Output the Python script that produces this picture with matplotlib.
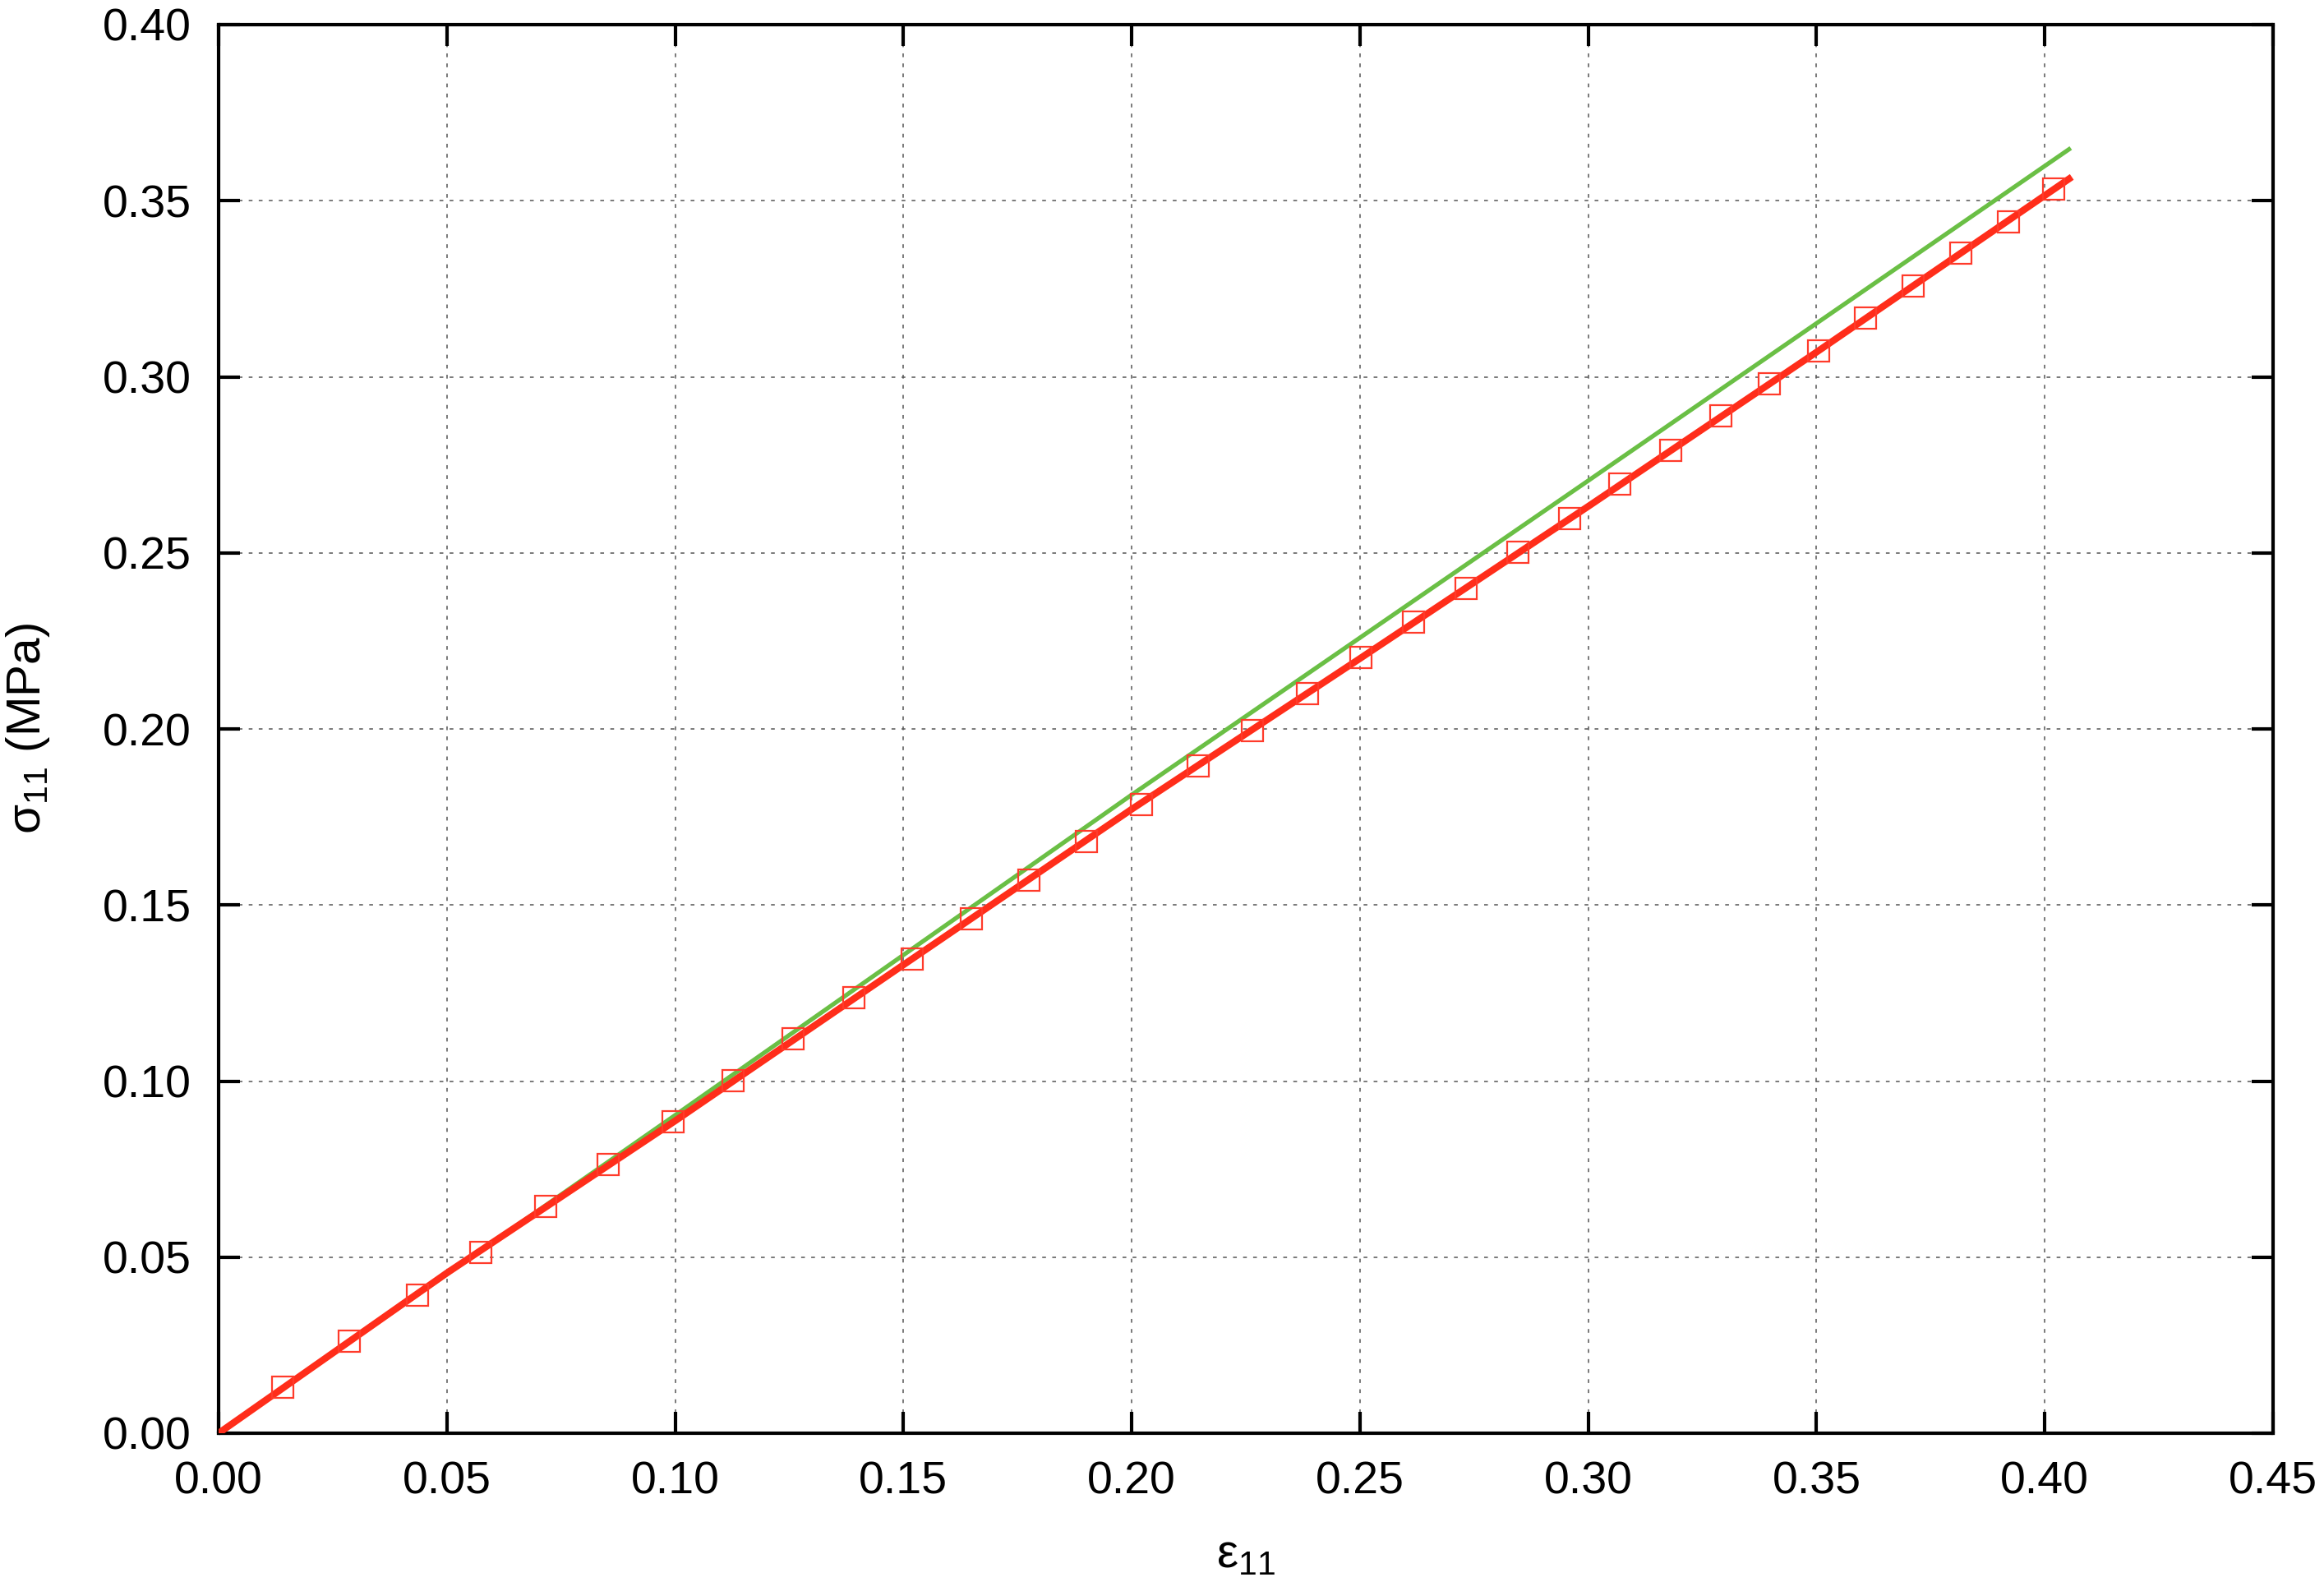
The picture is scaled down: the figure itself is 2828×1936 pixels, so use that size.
import matplotlib
matplotlib.use("Agg")
import matplotlib.pyplot as plt
import numpy as np

plt.rcParams['font.family'] = ['Liberation Sans', 'DejaVu Sans']
plt.rcParams['mathtext.fontset'] = 'custom'
plt.rcParams['mathtext.rm'] = 'Liberation Sans'
plt.rcParams['mathtext.it'] = 'Liberation Sans'
plt.rcParams['mathtext.bf'] = 'Liberation Sans:bold'

# Simulation markers (red squares)
strain_pts = [0.0140, 0.0286, 0.0435, 0.0574, 0.0717, 0.0853, 0.0996, 0.1126, 0.1259,
              0.1392, 0.1519, 0.1648, 0.1775, 0.1901, 0.2021, 0.2145, 0.2265, 0.2385,
              0.2502, 0.2618, 0.2732, 0.2846, 0.2959, 0.3069, 0.3180, 0.3290, 0.3397,
              0.3504, 0.3608, 0.3712, 0.3816, 0.3920, 0.4020]
stress_pts = [0.0130, 0.0261, 0.0392, 0.0514, 0.0644, 0.0762, 0.0884, 0.1002, 0.1120,
              0.1238, 0.1347, 0.1461, 0.1570, 0.1680, 0.1785, 0.1895, 0.1996, 0.2101,
              0.2202, 0.2303, 0.2400, 0.2501, 0.2598, 0.2695, 0.2792, 0.2888, 0.2981,
              0.3074, 0.3166, 0.3259, 0.3352, 0.3440, 0.3533]

# Red fitted curve
strain_red = [0.0, 0.05, 0.10, 0.15, 0.20, 0.25, 0.30, 0.35, 0.4053]
stress_red = [0.0, 0.0455, 0.0887, 0.1330, 0.1772, 0.2200, 0.2632, 0.3070, 0.3562]

# Green curve
strain_green = [0.0, 0.10, 0.20, 0.30, 0.4053]
stress_green = [0.0, 0.0903, 0.1813, 0.2705, 0.3646]

xticks = [0.00, 0.05, 0.10, 0.15, 0.20, 0.25, 0.30, 0.35, 0.40, 0.45]
yticks = [0.00, 0.05, 0.10, 0.15, 0.20, 0.25, 0.30, 0.35, 0.40]

fig = plt.figure(figsize=(28.28, 19.36), dpi=100)
ax = fig.add_axes([266/2828, 1 - 1744/1936, 2500/2828, 1714/1936])

ax.plot(strain_green, stress_green, color='#6abf45', lw=3.8, zorder=3)
ax.plot(strain_red, stress_red, color='#ff2d1a', lw=6.0, zorder=4)
ax.plot(strain_pts, stress_pts, ls='none', marker='s', markersize=19,
        markerfacecolor='none', markeredgecolor='#ff3b2b', markeredgewidth=1.6, zorder=5)

ax.set_xlim(0, 0.45)
ax.set_ylim(0, 0.40)
ax.set_xticks(xticks)
ax.set_yticks(yticks)
ax.set_xticklabels([f"{v:.2f}" for v in xticks])
ax.set_yticklabels([f"{v:.2f}" for v in yticks])

ax.grid(True, color='#555555', linestyle=(0, (3, 5)), linewidth=1.1)
ax.set_axisbelow(True)

for s in ax.spines.values():
    s.set_linewidth(3.0)
    s.set_color('black')

ax.tick_params(axis='both', direction='in', length=19, width=3, labelsize=40,
               top=True, right=True, pad=24)

ax.set_xlabel(r'$\mathrm{ε}_{\mathrm{11}}$', fontsize=42, labelpad=26)
ax.set_ylabel(r'$\mathrm{σ}_{\mathrm{11}}$ (MPa)', fontsize=42, labelpad=44)

fig.savefig('out.png', dpi=100)
